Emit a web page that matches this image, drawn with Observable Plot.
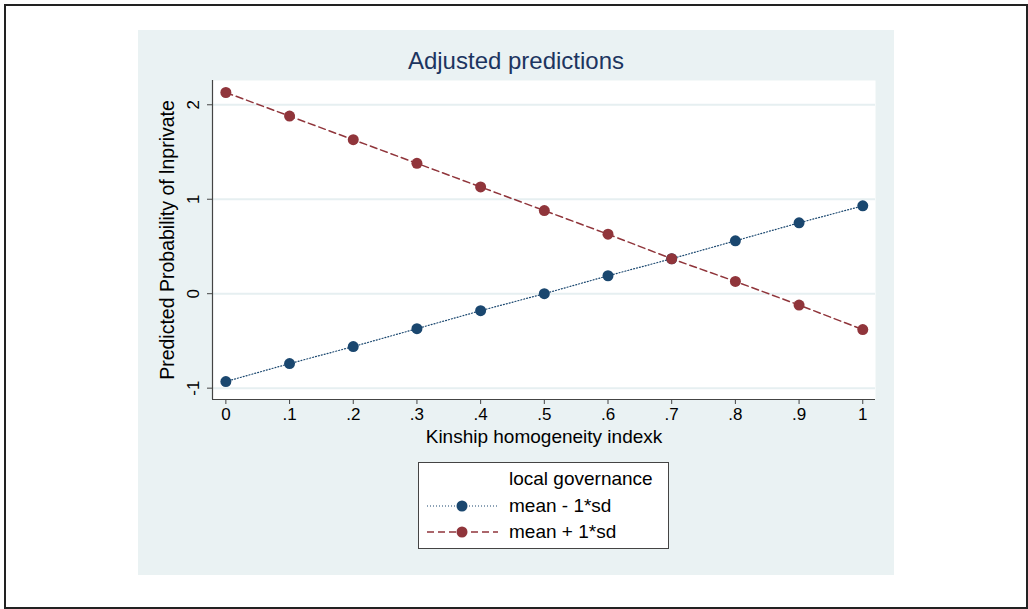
<!DOCTYPE html>
<html>
<head>
<meta charset="utf-8">
<script src="https://cdn.jsdelivr.net/npm/d3@7"></script>
<script src="https://cdn.jsdelivr.net/npm/@observablehq/plot@0.6"></script>
<style>
  body { margin: 0; background: #fff; font-family: "Liberation Sans", Arial, sans-serif; }
  #wrap { position: relative; width: 1028px; height: 609px; overflow: hidden; }
  #border { position: absolute; left: 4px; top: 4px; width: 1020px; height: 601px; border: 2px solid #222; }
  #panel { position: absolute; left: 138px; top: 30px; width: 756px; height: 545px; background: #eaf2f3; }
  #title { position: absolute; left: 138px; width: 756px; top: 47px; text-align: center; font-size: 24px; line-height: 28px; color: #1c3560; }
  #chart { position: absolute; left: 0; top: 0; }
  #legend { position: absolute; left: 418px; top: 462px; width: 251px; height: 87px; background: #fff; border: 1px solid #444; box-sizing: border-box; font-size: 19px; color: #000; }
  .lrow { position: absolute; left: 0; height: 24px; display: flex; align-items: center; }
  .lrow svg { position: absolute; left: 7px; top: 0; }
  .lrow span { position: absolute; left: 90px; white-space: nowrap; }
</style>
</head>
<body>
<div id="wrap">
  <div id="border"></div>
  <div id="panel"></div>
  <div id="title">Adjusted predictions</div>
  <div id="chart"></div>
  <div id="legend"></div>
</div>
<script>
// Data
const kinship = [0, 0.1, 0.2, 0.3, 0.4, 0.5, 0.6, 0.7, 0.8, 0.9, 1];
const meanMinus1sd = [-0.93, -0.74, -0.56, -0.37, -0.18, 0.00, 0.19, 0.37, 0.56, 0.75, 0.93];
const meanPlus1sd = [2.13, 1.88, 1.63, 1.38, 1.13, 0.88, 0.63, 0.37, 0.13, -0.12, -0.38];
const seriesNames = ["mean - 1*sd", "mean + 1*sd"];
const seriesColors = ["#1a476f", "#90353b"];
const seriesDash = ["1,2", "7,4"];
const xTicks = [0, 0.1, 0.2, 0.3, 0.4, 0.5, 0.6, 0.7, 0.8, 0.9, 1];
const xTickLabels = ["0", ".1", ".2", ".3", ".4", ".5", ".6", ".7", ".8", ".9", "1"];
const yTicks = [-1, 0, 1, 2];
const yTickLabels = ["-1", "0", "1", "2"];
const legendTitle = "local governance";

const rows = [];
kinship.forEach((k, i) => {
  rows.push({x: k, y: meanMinus1sd[i], s: seriesNames[0]});
  rows.push({x: k, y: meanPlus1sd[i], s: seriesNames[1]});
});

const chart = Plot.plot({
  width: 1028,
  height: 609,
  marginLeft: 212,
  marginRight: 153,
  marginTop: 80,
  marginBottom: 210,
  style: { background: "transparent", fontFamily: "Liberation Sans, Arial, sans-serif", fontSize: "17px", color: "#000" },
  x: { domain: [-0.021, 1.02] },
  y: { domain: [-1.12, 2.257] },
  color: { domain: seriesNames, range: seriesColors },
  marks: [
    Plot.frame({ fill: "white", stroke: "none" }),
    Plot.gridY(yTicks, { stroke: "#e6eff1", strokeOpacity: 1, strokeWidth: 2 }),
    Plot.ruleX([-0.021], { stroke: "#444", strokeWidth: 1.2 }),
    Plot.ruleY([-1.12], { stroke: "#444", strokeWidth: 1.2 }),
    Plot.axisX(xTicks, {
      tickFormat: (d, i) => xTickLabels[i],
      tickSize: 5, tickPadding: 3, stroke: "#444", fontSize: 17,
      label: null
    }),
    Plot.axisX({
      ticks: [], tickSize: 0, fontSize: 19,
      label: "Kinship homogeneity indexk", labelAnchor: "center", labelArrow: "none", labelOffset: 43
    }),
    Plot.axisY(yTicks, {
      tickFormat: (d, i) => yTickLabels[i],
      tickSize: 5, tickPadding: 9, tickRotate: -90, stroke: "#444", fontSize: 17,
      label: null
    }),
    Plot.axisY({
      ticks: [], tickSize: 0, fontSize: 19.5,
      label: "Predicted Probability of lnprivate", labelAnchor: "center", labelArrow: "none", labelOffset: 52
    }),
    ...seriesNames.map((name, j) =>
      Plot.line(rows.filter(r => r.s === name), {
        x: "x", y: "y", stroke: seriesColors[j], strokeWidth: j === 0 ? 1.2 : 1.5,
        strokeDasharray: seriesDash[j]
      })
    ),
    Plot.dot(rows, { x: "x", y: "y", fill: "s", r: 5.5, stroke: "none" })
  ]
});
document.getElementById("chart").appendChild(chart);

// Legend (HTML)
const legend = document.getElementById("legend");
const t = document.createElement("div");
t.className = "lrow"; t.style.top = "4px";
t.innerHTML = `<span>${legendTitle}</span>`;
legend.appendChild(t);
seriesNames.forEach((name, j) => {
  const row = document.createElement("div");
  row.className = "lrow";
  row.style.top = (31 + j * 26) + "px";
  row.innerHTML = `<svg width="74" height="24"><line x1="1" x2="72" y1="12" y2="12" stroke="${seriesColors[j]}" stroke-width="${j === 0 ? 1.2 : 1.5}" stroke-dasharray="${seriesDash[j]}"/><circle cx="36" cy="12" r="5.5" fill="${seriesColors[j]}"/></svg><span>${name}</span>`;
  legend.appendChild(row);
});
</script>
</body>
</html>
